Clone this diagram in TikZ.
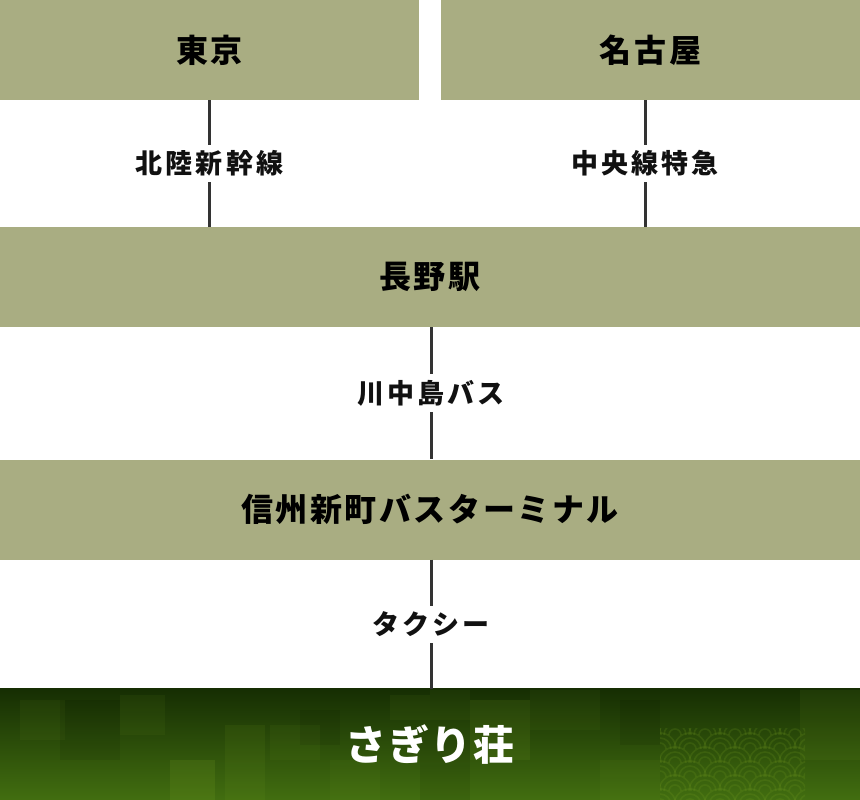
\documentclass[tikz,border=0pt]{standalone}
\usepackage{fontspec}
\usetikzlibrary{backgrounds}
\newfontfamily\jp{Noto Sans CJK JP}[LetterSpace=8]
\newfontfamily\jplab{Noto Sans CJK JP}[LetterSpace=12]
\newfontfamily\jpname{Noto Sans CJK JP}[LetterSpace=4]
\definecolor{olive}{RGB}{169,173,130}
\definecolor{line}{RGB}{51,51,51}
\definecolor{ink}{RGB}{17,17,17}
\definecolor{sgtop}{RGB}{22,46,3}
\definecolor{sgbot}{RGB}{66,110,16}
\definecolor{leaf}{RGB}{120,160,35}

\begin{document}
\begin{tikzpicture}[x=1pt,y=-1pt,
  box/.style={fill=olive,inner sep=0pt,minimum height=100pt,text=black,font=\fontsize{32}{32}\selectfont\jp\bfseries},
  lab/.style={fill=white,inner xsep=3pt,inner ysep=6pt,text=ink,font=\fontsize{27}{27}\selectfont\jplab\bfseries},
  inn/.style={inner sep=0pt,minimum width=860pt,minimum height=111pt,text=white,font=\fontsize{41}{41}\selectfont\jpname\bfseries},
  conn/.style={draw=line,line width=3pt},
  wave/.style={draw=leaf,opacity=0.18,line width=1.6pt}]
  \useasboundingbox (0,0) rectangle (860,800);

  \node[box,minimum width=419pt] (tokyo)     at (209.5,50)  {東京};
  \node[box,minimum width=419pt] (nagoya)    at (650.5,50)  {名古屋};
  \node[box,minimum width=860pt] (nagano)    at (430,277)   {長野駅};
  \node[box,minimum width=860pt] (shinmachi) at (430,509.5) {信州新町バスターミナル};
  \node[inn]                     (sagiri)    at (430,744.5) {さぎり荘};

  \begin{scope}[on background layer]
    \shade[top color=sgtop,bottom color=sgbot] (sagiri.north west) rectangle (sagiri.south east);
    \clip (sagiri.north west) rectangle (sagiri.south east);
    % checkered patches
    \foreach \x/\y/\w/\h/\o in {20/700/45/40/.08, 120/695/45/40/.08, 170/760/45/40/.18, 225/725/40/75/.10,
                                270/725/50/35/.08, 330/760/50/40/.07, 390/695/40/25/.08, 430/690/40/30/.07,
                                470/700/60/60/.14, 530/690/70/40/.07, 600/760/60/40/.08, 800/690/60/70/.10}
      \fill[leaf,opacity=\o] (\x,\y) rectangle ++(\w,\h);
    \foreach \x/\y/\w/\h in {60/700/60/60, 300/710/40/35, 620/700/40/45, 420/740/50/60}
      \fill[black,opacity=.08] (\x,\y) rectangle ++(\w,\h);
    % seigaiha waves
    \begin{scope}
      \clip (660,728) rectangle (805,800);
      \foreach \r in {0,...,5}
        \foreach \c in {0,...,6}
          \foreach \s in {16,11,6}
            \draw[wave] ({645+\c*30+mod(\r,2)*15-\s},{735+\r*14}) arc[start angle=180,end angle=360,radius=\s];
    \end{scope}
  \end{scope}

  \draw[conn] (tokyo.south) -- node[lab] (hokuriku) {北陸新幹線} (tokyo.south |- nagano.north);
  \draw[conn] ([xshift=-5.5pt]nagoya.south) -- node[lab] (chuo) {中央線特急} ([xshift=-5.5pt]nagoya.south |- nagano.north);
  \draw[conn] ([xshift=1pt]nagano.south) -- node[lab] (bus) {川中島バス} ([xshift=1pt]shinmachi.north);
  \draw[conn] ([xshift=1pt]shinmachi.south) -- node[lab] (taxi) {タクシー} ([xshift=1pt]sagiri.north);
\end{tikzpicture}
\end{document}
